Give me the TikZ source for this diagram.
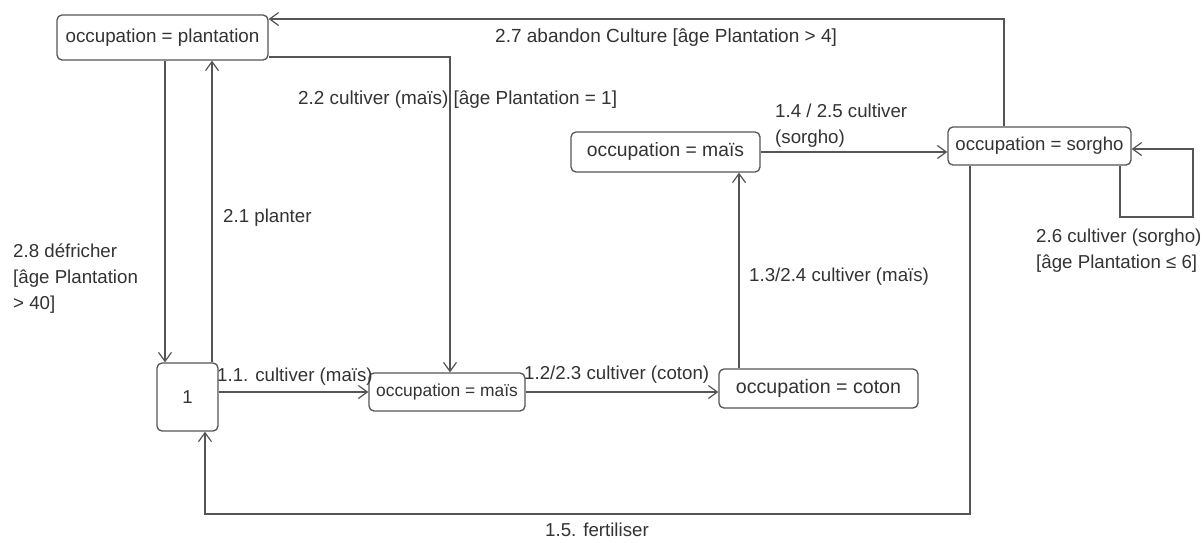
\documentclass[tikz,border=0pt]{standalone}
\usepackage{fontspec}
\setmainfont{Liberation Sans}
\usetikzlibrary{arrows.meta}
\definecolor{linec}{HTML}{555555}
\definecolor{textc}{HTML}{333333}
\begin{document}
\begin{tikzpicture}[x=1pt,y=-1pt,
 state/.style={draw=linec, line width=1.3pt, rounded corners=5pt, inner sep=0pt, text=textc},
 lbl/.style={anchor=west, inner sep=0pt, text=textc, font=\fontsize{18.7}{26}\selectfont, align=left},
 conn/.style={draw=linec, line width=1.2pt, -{Straight Barb[length=9pt,width=13pt,line width=1.2pt]}},
]
\useasboundingbox[fill=white] (0,0) rectangle (1203,542);

% states
\node[state, minimum width=211pt, minimum height=45pt, font=\fontsize{18.8}{22}\selectfont] (P) at (162.5,37.5) {occupation = plantation};
\node[state, minimum width=61pt, minimum height=68pt, font=\fontsize{18.6}{22}\selectfont] (One) at (187.5,397) {1};
\node[state, minimum width=156pt, minimum height=38pt, font=\fontsize{17.4}{22}\selectfont] (M1) at (447,392) {occupation = maïs};
\node[state, minimum width=199pt, minimum height=39pt, font=\fontsize{19.6}{22}\selectfont] (C) at (818.5,388.5) {occupation = coton};
\node[state, minimum width=189pt, minimum height=40pt, font=\fontsize{19.3}{22}\selectfont] (M2) at (665.5,152) {occupation = maïs};
\node[state, minimum width=183pt, minimum height=38pt, font=\fontsize{18.6}{22}\selectfont] (S) at (1039.5,146) {occupation = sorgho};

% bend points
\coordinate (loopc) at (1193,217);
\coordinate (fb) at (205,514);

% connectors
\draw[conn] (S.north -| 1004,0) |- (P.east |- 0,19);
\draw[conn] (P.south -| 165,0) -- (One.north -| 165,0);
\draw[conn] (One.north -| 212,0) -- (P.south -| 212,0);
\draw[conn] (P.east |- 0,57) -| (M1.north -| 450,0);
\draw[conn] (One.east |- 0,392) -- (M1.west |- 0,392);
\draw[conn] (M1.east |- 0,392) -- (C.west |- 0,392);
\draw[conn] (C.north -| 739,0) -- (M2.south -| 739,0);
\draw[conn] (M2.east |- 0,152) -- (S.west |- 0,152);
\draw[conn] (S.south -| 1120,0) |- (loopc) |- (S.east |- 0,149);
\draw[conn] (S.south -| 970,0) |- (fb) -- (One.south -| 205,0);

% labels
\node[lbl, font=\fontsize{19}{26}\selectfont] (l27) at (495,38) {2.7 abandon Culture [âge Plantation > 4]};
\node[lbl, font=\fontsize{18.9}{26}\selectfont] (l22) at (298,100) {2.2 cultiver (maïs) [âge Plantation = 1]};
\node[lbl, anchor=north west] (l14) at (775,104) {1.4 / 2.5 cultiver\\(sorgho)};
\node[lbl] (l21) at (223,218) {2.1 planter};
\node[lbl, anchor=north west] (l28) at (13,244) {2.8 défricher\\{}[âge Plantation\\> 40]};
\node[lbl] (l11) at (217,377) {1.1. cultiver (maïs)};
\node[lbl] (l12) at (524,375) {1.2/2.3 cultiver (coton)};
\node[lbl] (l13) at (749,277) {1.3/2.4 cultiver (maïs)};
\node[lbl, anchor=north west] (l26) at (1036,229) {2.6 cultiver (sorgho)\\{}[âge Plantation ≤ 6]};
\node[lbl, anchor=south west] (l15) at (545,537) {1.5. fertiliser};
\end{tikzpicture}
\end{document}
